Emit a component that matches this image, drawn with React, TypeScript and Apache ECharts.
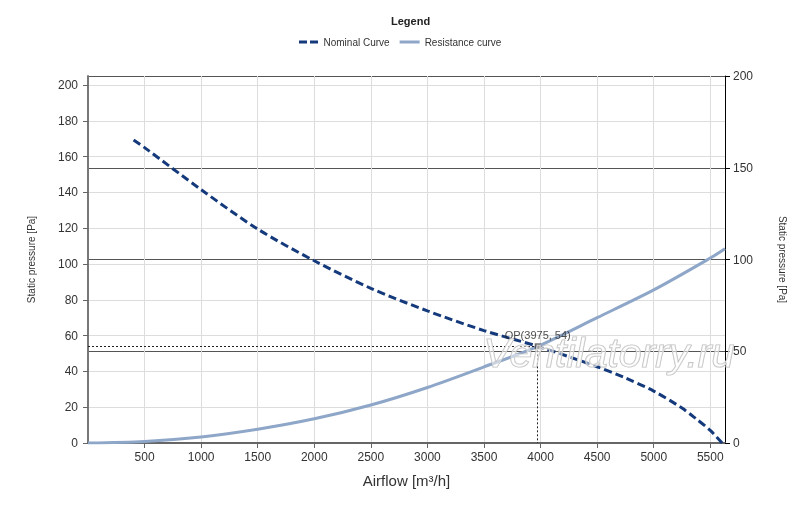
import React, { useEffect, useRef } from "react";
import * as echarts from "echarts";

const nominalCurve: [number, number][] = [
  [403, 169.3], [500, 165], [1000, 141.5], [1500, 119.5], [2000, 101.8],
  [2500, 86.4], [3000, 73.8], [3500, 62.8], [3975, 54], [4250, 48.2],
  [4500, 42.6], [4750, 36.3], [5000, 29], [5250, 19.5], [5375, 13.5],
  [5500, 7], [5605, 0],
];
const resistanceCurve: [number, number][] = [
  [0, 0], [500, 0.9], [1000, 3.4], [1500, 7.7], [2000, 13.5], [2500, 21.2],
  [3000, 31], [3500, 42.5], [3975, 54], [4500, 70], [5000, 85.5],
  [5500, 103.3], [5630, 108.5],
];
const opPoint: [number, number] = [3975, 54];
const seriesNames = ["Nominal Curve", "Resistance curve"];
const xMax = 5630;
const leftMax = 205;
const rightMax = 200;

const FONT = "Liberation Sans, Arial, sans-serif";
const NOMINAL_COLOR = "#143a7c";
const RESIST_COLOR = "#8ea6c8";

export default function App() {
  const ref = useRef<HTMLDivElement>(null);
  useEffect(() => {
    const chart = echarts.init(ref.current!, null, { renderer: "svg" });
    chart.setOption({
      animation: false,
      textStyle: { fontFamily: FONT },
      title: {
        text: "Legend",
        left: 391,
        top: 15,
        padding: 0,
        textStyle: { fontSize: 11, fontWeight: "bold", color: "#222", fontFamily: FONT },
      },
      legend: {
        data: [
          { name: seriesNames[0], icon: "path://M0,0H8V3H0Z M11,0H19V3H11Z" },
          { name: seriesNames[1], icon: "path://M0,0H20V3H0Z" },
        ],
        left: 294,
        top: 32,
        itemWidth: 20,
        itemHeight: 3,
        itemGap: 10,
        textStyle: { fontSize: 10, color: "#333", fontFamily: FONT },
      },
      grid: { left: 88, right: 75, top: 76, bottom: 64 },
      xAxis: {
        type: "value",
        min: 0,
        max: xMax,
        interval: 500,
        name: "Airflow [m³/h]",
        nameLocation: "middle",
        nameGap: 30,
        nameTextStyle: { fontSize: 15, color: "#333", fontFamily: FONT },
        axisLine: { show: true, lineStyle: { color: "#666", width: 2 } },
        axisTick: { show: true, length: 5, lineStyle: { color: "#666" } },
        axisLabel: {
          color: "#333",
          fontSize: 12,
          showMinLabel: false,
          showMaxLabel: false,
          margin: 8,
          formatter: (v: number) => String(v),
        },
        splitLine: { show: true, lineStyle: { color: "#dddddd" } },
      },
      yAxis: [
        {
          type: "value",
          position: "left",
          min: 0,
          max: leftMax,
          interval: 20,
          name: "Static pressure [Pa]",
          nameLocation: "middle",
          nameGap: 52,
          nameRotate: 90,
          nameTextStyle: { fontSize: 10, color: "#333", fontFamily: FONT },
          axisLine: { show: true, lineStyle: { color: "#777", width: 2 } },
          axisTick: { show: true, length: 5, lineStyle: { color: "#666" } },
          axisLabel: { color: "#333", fontSize: 12, showMaxLabel: false, margin: 10 },
          splitLine: { show: true, lineStyle: { color: "#dddddd" } },
        },
        {
          type: "value",
          position: "right",
          min: 0,
          max: rightMax,
          interval: 50,
          name: "Static pressure [Pa]",
          nameLocation: "middle",
          nameGap: 52,
          nameRotate: -90,
          nameTextStyle: { fontSize: 10, color: "#333", fontFamily: FONT },
          axisLine: { show: true, lineStyle: { color: "#000", width: 1 } },
          axisTick: { show: true, length: 5, lineStyle: { color: "#000" } },
          axisLabel: { color: "#333", fontSize: 12, margin: 8 },
          splitLine: { show: true, lineStyle: { color: "#555" } },
        },
      ],
      series: [
        {
          name: seriesNames[0],
          type: "line",
          yAxisIndex: 0,
          data: nominalCurve,
          smooth: 0.3,
          symbol: "none",
          lineStyle: { color: NOMINAL_COLOR, width: 3, type: [8, 4] },
          itemStyle: { color: NOMINAL_COLOR },
          z: 3,
        },
        {
          name: seriesNames[1],
          type: "line",
          yAxisIndex: 0,
          data: resistanceCurve,
          smooth: 0.3,
          symbol: "none",
          lineStyle: { color: RESIST_COLOR, width: 3 },
          itemStyle: { color: RESIST_COLOR },
          z: 2,
        },
        {
          name: "OP",
          type: "scatter",
          yAxisIndex: 0,
          data: [opPoint],
          symbol: "rect",
          symbolSize: 6,
          itemStyle: { color: "#444" },
          z: 5,
          label: {
            show: true,
            position: "top",
            distance: 3,
            color: "#222",
            fontSize: 11,
            fontFamily: FONT,
            formatter: (p: any) => `OP(${p.value[0]}, ${p.value[1]})`,
          },
          markLine: {
            silent: true,
            symbol: "none",
            label: { show: false },
            lineStyle: { color: "#222", width: 1, type: [2, 2] },
            data: [
              [{ coord: [0, opPoint[1]] }, { coord: [opPoint[0], opPoint[1]] }],
              [{ coord: [opPoint[0], opPoint[1]] }, { coord: [opPoint[0], 0] }],
            ],
          },
        },
      ],
      graphic: [
        {
          type: "text",
          left: 483,
          top: 332,
          z: 100,
          silent: true,
          style: {
            text: "Ventilatorry.ru",
            font: `italic 41px ${FONT}`,
            fill: "rgba(255,255,255,0.5)",
            stroke: "#bdbdbd",
            lineWidth: 1.2,
          },
        },
      ],
    });
    return () => chart.dispose();
  }, []);
  return (
    <div
      ref={ref}
      style={{ position: "fixed", left: 0, top: 0, width: 800, height: 507 }}
    />
  );
}
